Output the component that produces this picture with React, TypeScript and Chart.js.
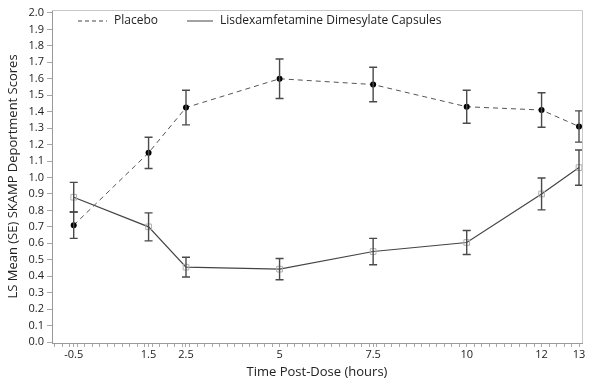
import React, { useEffect, useRef } from "react";
import { Chart, registerables } from "chart.js";

Chart.register(...registerables);

const times = [-0.5, 1.5, 2.5, 5, 7.5, 10, 12, 13];
const tickLabels = ["-0.5", "1.5", "2.5", "5", "7.5", "10", "12", "13"];
const placebo = [0.71, 1.15, 1.425, 1.6, 1.565, 1.43, 1.41, 1.31];
const placeboSE = [0.08, 0.095, 0.105, 0.12, 0.105, 0.1, 0.105, 0.095];
const lisdex = [0.88, 0.7, 0.455, 0.443, 0.55, 0.605, 0.9, 1.06];
const lisdexSE = [0.09, 0.085, 0.06, 0.065, 0.08, 0.073, 0.097, 0.107];
const yTicks = Array.from({ length: 21 }, (_, i) => i / 10);
const seriesNames = ["Placebo", "Lisdexamfetamine Dimesylate Capsules"];

const FONT = "'Open Sans', 'Noto Sans', sans-serif";

const errorBarPlugin = {
  id: "errorBars",
  afterDatasetsDraw(chart: any) {
    const ctx = chart.ctx;
    const ys = chart.scales.y;
    const xs = chart.scales.x;
    const sets = [
      { vals: placebo, se: placeboSE },
      { vals: lisdex, se: lisdexSE },
    ];
    ctx.save();
    ctx.strokeStyle = "#4a4a4a";
    ctx.lineWidth = 1.4;
    ctx.setLineDash([]);
    sets.forEach((s) => {
      s.vals.forEach((v, i) => {
        const x = xs.getPixelForValue(times[i]);
        const y1 = ys.getPixelForValue(v + s.se[i]);
        const y2 = ys.getPixelForValue(v - s.se[i]);
        ctx.beginPath();
        ctx.moveTo(x, y1);
        ctx.lineTo(x, y2);
        ctx.moveTo(x - 4, y1);
        ctx.lineTo(x + 4, y1);
        ctx.moveTo(x - 4, y2);
        ctx.lineTo(x + 4, y2);
        ctx.stroke();
      });
    });
    ctx.restore();
  },
  afterDraw(chart: any) {
    const ctx = chart.ctx;
    const a = chart.chartArea;
    ctx.save();
    // frame top & right
    ctx.strokeStyle = "#c8c8c8";
    ctx.lineWidth = 1;
    ctx.beginPath();
    ctx.moveTo(a.left, a.top + 0.5);
    ctx.lineTo(a.right + 0.5, a.top + 0.5);
    ctx.lineTo(a.right + 0.5, a.bottom);
    ctx.stroke();
    // legend
    const ly = 21;
    ctx.strokeStyle = "#444";
    ctx.lineWidth = 1;
    ctx.setLineDash([4, 3]);
    ctx.beginPath();
    ctx.moveTo(78, ly);
    ctx.lineTo(107, ly);
    ctx.stroke();
    ctx.setLineDash([]);
    ctx.beginPath();
    ctx.moveTo(187, ly);
    ctx.lineTo(213, ly);
    ctx.stroke();
    ctx.fillStyle = "#222";
    ctx.font = `12px ${FONT}`;
    ctx.textBaseline = "middle";
    ctx.textAlign = "left";
    ctx.fillText(seriesNames[0], 114, ly);
    ctx.fillText(seriesNames[1], 220, ly);
    ctx.restore();
  },
};

export default function App() {
  const ref = useRef<HTMLCanvasElement>(null);
  useEffect(() => {
    if (!ref.current) return;
    const chart = new Chart(ref.current, {
      type: "line",
      data: {
        datasets: [
          {
            label: seriesNames[0],
            data: times.map((t, i) => ({ x: t, y: placebo[i] })),
            borderColor: "#555",
            borderWidth: 1,
            borderDash: [5, 4],
            pointStyle: "circle",
            pointRadius: 3,
            pointBackgroundColor: "#000",
            pointBorderColor: "#000",
            pointBorderWidth: 0,
            tension: 0,
          },
          {
            label: seriesNames[1],
            data: times.map((t, i) => ({ x: t, y: lisdex[i] })),
            borderColor: "#444",
            borderWidth: 1.2,
            pointStyle: "rect",
            pointRadius: 4,
            pointBackgroundColor: "rgba(255,255,255,0)",
            pointBorderColor: "#b0b0b0",
            pointBorderWidth: 1,
            tension: 0,
          },
        ],
      },
      options: {
        responsive: false,
        devicePixelRatio: 1,
        animation: false,
        layout: { padding: { top: 10, right: 18, left: 0, bottom: 0 } },
        plugins: { legend: { display: false }, tooltip: { enabled: false } },
        scales: {
          x: {
            type: "linear",
            min: -1.08,
            max: 13.08,
            afterFit: (s: any) => {
              s.height = 45;
            },
            afterBuildTicks: (s: any) => {
              const vals: number[] = [...times];
              for (let i = -5; i <= 65; i++) {
                const v = i / 5;
                if (v < -1.05 || v > 13.05) continue;
                if (times.some((t) => Math.abs(t - v) < 0.05)) continue;
                vals.push(v);
              }
              vals.sort((a, b) => a - b);
              s.ticks = vals.map((v) => ({ value: v }));
            },
            ticks: {
              autoSkip: false,
              maxRotation: 0,
              padding: 1,
              color: "#222",
              font: { family: FONT, size: 11 },
              callback: (v: any) => {
                const idx = times.findIndex((t) => Math.abs(t - v) < 1e-6);
                return idx >= 0 ? tickLabels[idx] : "";
              },
            },
            grid: {
              display: true,
              drawOnChartArea: false,
              drawTicks: true,
              tickLength: 4,
              tickColor: "#aaa",
            },
            border: { display: true, color: "#999", width: 1 },
            title: {
              display: true,
              text: "Time Post-Dose (hours)",
              color: "#222",
              font: { family: FONT, size: 13 },
              padding: { top: 0, bottom: 8 },
            },
          },
          y: {
            type: "linear",
            min: -0.006,
            max: 2.018,
            afterFit: (s: any) => {
              s.width = 52;
            },
            afterBuildTicks: (s: any) => {
              s.ticks = yTicks.map((v) => ({ value: v }));
            },
            ticks: {
              autoSkip: false,
              padding: 3,
              color: "#222",
              font: { family: FONT, size: 11 },
              callback: (v: any) => Number(v).toFixed(1),
            },
            grid: {
              display: true,
              drawOnChartArea: false,
              drawTicks: true,
              tickLength: 5,
              tickColor: "#aaa",
            },
            border: { display: true, color: "#999", width: 1 },
            title: {
              display: true,
              text: "LS Mean (SE) SKAMP Deportment Scores",
              color: "#222",
              font: { family: FONT, size: 13 },
              padding: { top: 5, bottom: 0 },
            },
          },
        },
      },
      plugins: [errorBarPlugin],
    } as any);
    return () => chart.destroy();
  }, []);
  return (
    <div style={{ position: "absolute", left: 0, top: 0, width: 600, height: 388, background: "#fff" }}>
      <canvas ref={ref} width={600} height={388} style={{ width: 600, height: 388 }} />
    </div>
  );
}
